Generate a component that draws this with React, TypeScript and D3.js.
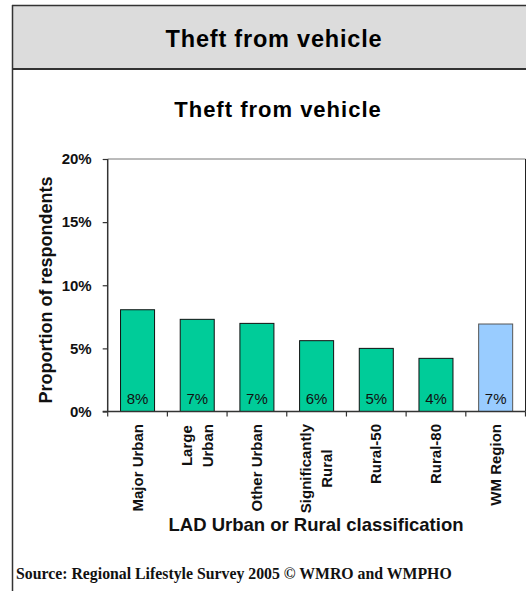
import { useRef, useEffect } from 'react';
import * as d3 from 'd3';

const categories = ['Major Urban', 'Large|Urban', 'Other Urban', 'Significantly|Rural', 'Rural-50', 'Rural-80', 'WM Region'];
const values = [8.06, 7.3, 6.98, 5.61, 5.0, 4.21, 6.93];
const barLabels = ['8%', '7%', '7%', '6%', '5%', '4%', '7%'];
const yTicks = [0, 5, 10, 15, 20];

const W = 526, H = 591;
const SANS = '"Liberation Sans", Arial, sans-serif';

export default function App() {
  const svgRef = useRef<SVGSVGElement>(null);

  useEffect(() => {
    if (!svgRef.current) return;
    const svg = d3.select(svgRef.current);
    svg.selectAll('*').remove();

    // frame + header
    svg.append('rect').attr('x', 12).attr('y', 5.5).attr('width', 530).attr('height', 63.5).attr('fill', '#dcdcdc');
    svg.append('line').attr('x1', 12).attr('x2', W).attr('y1', 5.5).attr('y2', 5.5).attr('stroke', '#333').attr('stroke-width', 1.5);
    svg.append('line').attr('x1', 12).attr('x2', W).attr('y1', 69).attr('y2', 69).attr('stroke', '#333').attr('stroke-width', 2);
    svg.append('line').attr('x1', 12.5).attr('x2', 12.5).attr('y1', 5).attr('y2', H).attr('stroke', '#333').attr('stroke-width', 1.5);
    svg.append('text').attr('x', 274).attr('y', 46.5).attr('text-anchor', 'middle')
      .attr('font-family', SANS).attr('font-weight', 'bold').attr('font-size', 23.5).attr('letter-spacing', 0.8)
      .text('Theft from vehicle');

    // chart title
    svg.append('text').attr('x', 278).attr('y', 116.5).attr('text-anchor', 'middle')
      .attr('font-family', SANS).attr('font-weight', 'bold').attr('font-size', 22).attr('letter-spacing', 1)
      .text('Theft from vehicle');

    const left = 107.7, right = 525.5, top = 159, bottom = 411.5;
    const x = d3.scaleBand().domain(categories).range([left, right]).paddingInner(0.43).paddingOuter(0.215);
    const y = d3.scaleLinear().domain([0, 20]).range([bottom, top]);

    // plot area border (top + right)
    svg.append('line').attr('x1', left).attr('x2', right).attr('y1', top).attr('y2', top).attr('stroke', '#777').attr('stroke-width', 1);
    svg.append('line').attr('x1', right).attr('x2', right).attr('y1', top).attr('y2', bottom).attr('stroke', '#222').attr('stroke-width', 1);

    // bars
    svg.selectAll('rect.bar').data(values).enter().append('rect')
      .attr('class', 'bar')
      .attr('x', (_, i) => x(categories[i])!)
      .attr('width', x.bandwidth())
      .attr('y', d => y(d))
      .attr('height', d => bottom - y(d))
      .attr('fill', (_, i) => i === categories.length - 1 ? '#99ccff' : '#00cc99')
      .attr('stroke', (_, i) => i === categories.length - 1 ? '#555' : '#111')
      .attr('stroke-width', 1);

    svg.selectAll('text.barlabel').data(barLabels).enter().append('text')
      .attr('class', 'barlabel')
      .attr('x', (_, i) => x(categories[i])! + x.bandwidth() / 2)
      .attr('y', bottom - 8)
      .attr('text-anchor', 'middle')
      .attr('font-family', SANS).attr('font-size', 15).attr('fill', '#111')
      .text(d => d);

    // y axis
    const yAxis = svg.append('g').attr('transform', `translate(${left},0)`)
      .call(d3.axisLeft(y).tickValues(yTicks).tickSize(5).tickPadding(11).tickFormat(d => `${d}%`));
    yAxis.select('.domain').attr('stroke', '#333').attr('stroke-width', 1.5).attr('d', `M0,${top}V${bottom}`);
    yAxis.selectAll('.tick line').attr('stroke', '#333').attr('stroke-width', 1.2);
    yAxis.selectAll('.tick text').attr('font-family', SANS).attr('font-weight', 'bold').attr('font-size', 15).attr('fill', '#111');

    // x axis line + ticks at band boundaries
    svg.append('line').attr('x1', left - 5).attr('x2', right).attr('y1', bottom).attr('y2', bottom).attr('stroke', '#333').attr('stroke-width', 1.5);
    const step = x.step();
    svg.selectAll('line.xtick').data(d3.range(categories.length + 1)).enter().append('line')
      .attr('class', 'xtick')
      .attr('x1', i => left + i * step).attr('x2', i => left + i * step)
      .attr('y1', bottom).attr('y2', bottom + 5)
      .attr('stroke', '#333').attr('stroke-width', 1.2);

    // category labels, rotated, multi-line centred
    categories.forEach(c => {
      const lines = c.split('|');
      const cx = x(c)! + x.bandwidth() / 2;
      const g = svg.append('g');
      const texts = lines.map(ln => g.append('text')
        .attr('font-family', SANS).attr('font-weight', 'bold').attr('font-size', 15).attr('fill', '#111')
        .text(ln));
      const widths = texts.map(t => (t.node() as SVGTextElement).getComputedTextLength());
      const maxW = Math.max(...widths);
      const cy = 424 + maxW / 2;
      texts.forEach((t, j) => {
        const bx = cx + 5 + (j - (lines.length - 1) / 2) * 21;
        t.attr('text-anchor', 'middle').attr('transform', `translate(${bx},${cy}) rotate(-90)`);
      });
    });

    // axis titles
    svg.append('text').attr('transform', `translate(51.5,290) rotate(-90)`).attr('text-anchor', 'middle')
      .attr('font-family', SANS).attr('font-weight', 'bold').attr('font-size', 18).attr('fill', '#111')
      .text('Proportion of respondents');
    svg.append('text').attr('x', 316).attr('y', 531).attr('text-anchor', 'middle')
      .attr('font-family', SANS).attr('font-weight', 'bold').attr('font-size', 18.5).attr('fill', '#111')
      .text('LAD Urban or Rural classification');

    // source
    svg.append('text').attr('x', 16).attr('y', 579)
      .attr('font-family', '"Liberation Serif", "Times New Roman", serif').attr('font-weight', 'bold').attr('font-size', 15.8).attr('fill', '#111')
      .text('Source: Regional Lifestyle Survey 2005 © WMRO and WMPHO');
  }, []);

  return (
    <div style={{ width: W, height: H, background: '#fff' }}>
      <style>{'body{margin:0}'}</style>
      <svg ref={svgRef} width={W} height={H} style={{ display: 'block' }} />
    </div>
  );
}
